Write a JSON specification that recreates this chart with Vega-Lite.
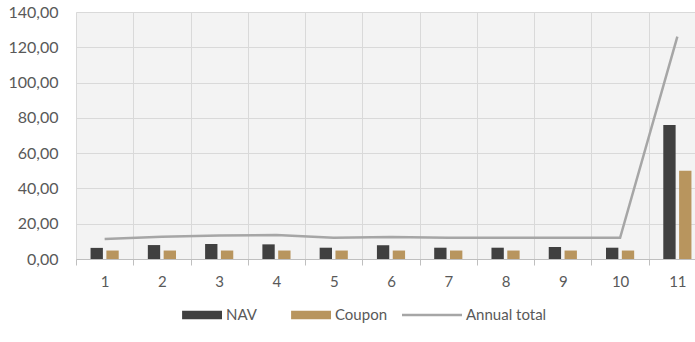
{
  "$schema": "https://vega.github.io/schema/vega-lite/v6.json",
  "autosize": "none",
  "width": 619,
  "height": 247,
  "padding": {"left": 76, "top": 12, "right": 0, "bottom": 83},
  "background": "white",
  "data": {
    "values": [
      {"x": 1, "series": "NAV", "value": 6.3}, {"x": 1, "series": "Coupon", "value": 4.8}, {"x": 1, "series": "Annual total", "value": 11.3},
      {"x": 2, "series": "NAV", "value": 7.9}, {"x": 2, "series": "Coupon", "value": 4.8}, {"x": 2, "series": "Annual total", "value": 12.6},
      {"x": 3, "series": "NAV", "value": 8.5}, {"x": 3, "series": "Coupon", "value": 4.8}, {"x": 3, "series": "Annual total", "value": 13.3},
      {"x": 4, "series": "NAV", "value": 8.3}, {"x": 4, "series": "Coupon", "value": 4.8}, {"x": 4, "series": "Annual total", "value": 13.6},
      {"x": 5, "series": "NAV", "value": 6.4}, {"x": 5, "series": "Coupon", "value": 4.8}, {"x": 5, "series": "Annual total", "value": 12.0},
      {"x": 6, "series": "NAV", "value": 7.8}, {"x": 6, "series": "Coupon", "value": 4.8}, {"x": 6, "series": "Annual total", "value": 12.5},
      {"x": 7, "series": "NAV", "value": 6.4}, {"x": 7, "series": "Coupon", "value": 4.8}, {"x": 7, "series": "Annual total", "value": 12.0},
      {"x": 8, "series": "NAV", "value": 6.4}, {"x": 8, "series": "Coupon", "value": 4.8}, {"x": 8, "series": "Annual total", "value": 12.0},
      {"x": 9, "series": "NAV", "value": 6.8}, {"x": 9, "series": "Coupon", "value": 4.8}, {"x": 9, "series": "Annual total", "value": 12.0},
      {"x": 10, "series": "NAV", "value": 6.4}, {"x": 10, "series": "Coupon", "value": 4.8}, {"x": 10, "series": "Annual total", "value": 12.0},
      {"x": 11, "series": "NAV", "value": 76}, {"x": 11, "series": "Coupon", "value": 50}, {"x": 11, "series": "Annual total", "value": 126}
    ]
  },
  "encoding": {
    "x": {
      "field": "x", "type": "ordinal",
      "scale": {"range": [0, 630], "paddingInner": 0, "paddingOuter": 0},
      "axis": {
        "title": null, "labelAngle": 0, "tickBand": "extent", "grid": true,
        "gridColor": "#d9d9d9", "domainColor": "#bfbfbf", "tickColor": "#bfbfbf",
        "tickSize": 6, "labelPadding": 9, "labelFont": "Lato", "labelFontSize": 15,
        "labelColor": "#595959"
      }
    },
    "y": {
      "field": "value", "type": "quantitative",
      "scale": {"domain": [0, 140], "nice": false},
      "axis": {
        "title": null, "values": [0, 20, 40, 60, 80, 100, 120, 140],
        "labelExpr": "replace(format(datum.value, '.2f'), '.', ',')",
        "domain": false, "ticks": false, "gridColor": "#d9d9d9",
        "labelPadding": 18, "labelFont": "Lato", "labelFontSize": 16, "labelColor": "#595959"
      }
    },
    "color": {
      "field": "series", "type": "nominal",
      "scale": {"domain": ["NAV", "Coupon", "Annual total"], "range": ["#404040", "#b8955e", "#a6a6a6"]},
      "legend": {
        "title": null, "orient": "none", "legendX": 86, "legendY": 273,
        "direction": "horizontal", "symbolSize": 3600, "labelOffset": 4,
        "columnPadding": 14, "padding": 0, "labelFont": "Lato", "labelFontSize": 15,
        "labelColor": "#595959",
        "encode": {
          "symbols": {
            "update": {
              "shape": {"signal": "datum.value === 'Annual total' ? 'M-1,-0.04H1V0.04H-1Z' : 'M-0.33,-0.14H1V0.14H-0.33Z'"},
              "fill": {"scale": "color", "field": "value"},
              "strokeWidth": {"value": 0},
              "opacity": {"value": 1}
            }
          }
        }
      }
    }
  },
  "layer": [
    {
      "transform": [{"filter": "datum.series !== 'Annual total'"}],
      "mark": {"type": "bar"},
      "encoding": {
        "xOffset": {
          "field": "series", "type": "nominal",
          "scale": {"domain": ["NAV", "Coupon"], "paddingInner": 0.22, "paddingOuter": 0.92}
        }
      }
    },
    {
      "transform": [{"filter": "datum.series === 'Annual total'"}],
      "mark": {"type": "line", "strokeWidth": 2.5},
      "encoding": {}
    }
  ],
  "config": {
    "view": {"stroke": null, "fill": "#f3f3f3"}
  }
}
